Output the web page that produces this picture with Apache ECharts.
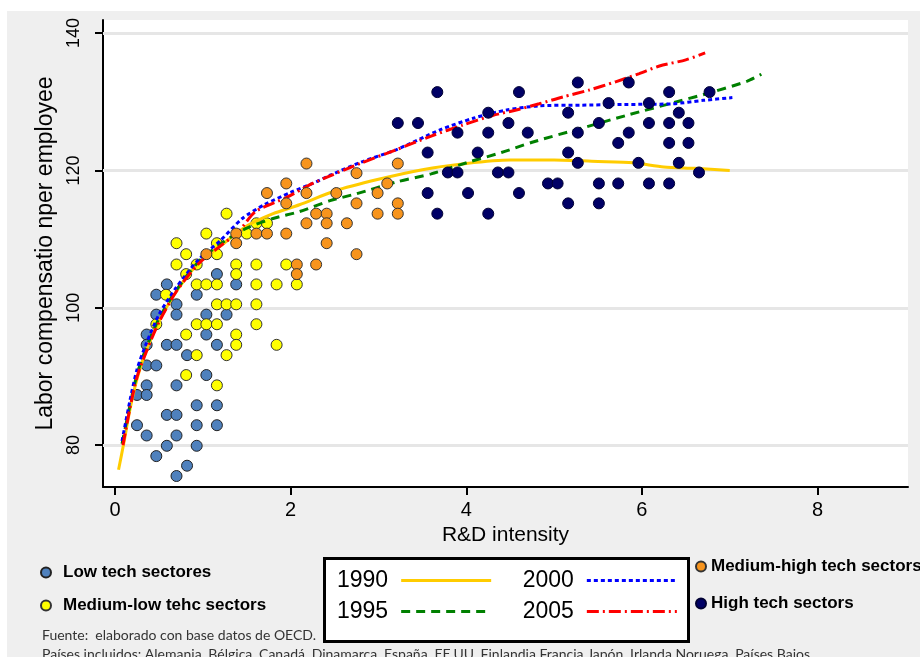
<!DOCTYPE html>
<html>
<head>
<meta charset="utf-8">
<script src="https://cdn.jsdelivr.net/npm/echarts@6/dist/echarts.min.js"></script>
<style>
  html, body { margin: 0; padding: 0; background: #fff; }
  #main { width: 920px; height: 657px; }
</style>
</head>
<body>
<div id="main"></div>
<script>
// ticks
var xTicks = [0, 2, 4, 6, 8];
var yTicks = [80, 100, 120, 140];

// sectors (R&D intensity, labor compensation per employee)
var lowTech = [
  [0.59,103.4],[1.38,103.4],[1.16,104.9],[0.47,101.9],[0.93,101.9],[0.70,100.5],
  [0.47,99.0],[0.70,99.0],[1.04,99.0],[1.27,99.0],[0.36,96.1],[1.04,96.1],
  [0.36,94.6],[0.59,94.6],[0.70,94.6],[1.16,94.6],[0.82,93.1],[0.36,91.6],
  [0.47,91.6],[1.04,90.2],[0.36,88.7],[0.70,88.7],[0.25,87.3],[0.36,87.3],
  [0.93,85.8],[1.16,85.8],[0.59,84.4],[0.70,84.4],[0.25,82.9],[0.93,82.9],
  [1.16,82.9],[0.36,81.4],[0.70,81.4],[0.59,79.9],[0.93,79.9],[0.47,78.4],
  [0.82,77.0],[0.70,75.5]
];
var medLowTech = [
  [0.70,109.4],[0.81,107.8],[1.04,110.8],[1.16,109.4],[1.16,107.8],[1.27,113.7],
  [1.50,110.8],[1.61,112.3],[1.73,112.3],[0.70,106.3],[0.93,106.3],[1.38,106.3],
  [1.61,106.3],[1.95,106.3],[0.81,104.9],[1.38,104.9],[0.93,103.4],[1.04,103.4],
  [1.16,103.4],[1.61,103.4],[1.84,103.4],[2.07,103.4],[0.58,101.9],[1.16,100.5],
  [1.27,100.5],[1.38,100.5],[1.61,100.5],[0.47,97.6],[0.93,97.6],[1.04,97.6],
  [1.16,97.6],[1.61,97.6],[0.81,96.1],[1.38,96.1],[1.38,94.6],[1.84,94.6],
  [0.93,93.1],[1.27,93.1],[0.81,90.2],[1.16,88.7]
];
var medHighTech = [
  [1.04,107.8],[1.38,110.8],[1.38,109.4],[1.61,110.8],[1.73,110.8],[1.95,110.8],
  [1.73,116.7],[1.95,118.1],[1.95,115.2],[2.07,106.3],[2.07,104.9],[2.18,121.0],
  [2.18,116.7],[2.18,112.3],[2.29,113.7],[2.29,106.3],[2.41,113.7],[2.41,112.3],
  [2.41,109.4],[2.52,116.7],[2.64,112.3],[2.75,119.6],[2.75,115.2],[2.75,107.8],
  [2.99,116.7],[2.99,113.7],[3.10,118.1],[3.22,121.0],[3.22,115.2],[3.22,113.7]
];
var highTech = [
  [3.22,126.9],[3.45,126.9],[3.67,131.4],[3.56,122.6],[3.56,116.7],[3.67,113.7],
  [3.79,119.7],[3.90,119.7],[3.90,125.5],[4.02,116.7],[4.13,122.6],[4.25,128.4],
  [4.25,125.5],[4.25,113.7],[4.36,119.7],[4.48,119.7],[4.48,126.9],[4.60,131.4],
  [4.60,116.7],[4.70,125.5],[4.93,118.1],[5.04,118.1],[5.16,128.4],[5.16,122.6],
  [5.16,115.2],[5.27,132.8],[5.27,125.5],[5.27,121.1],[5.51,126.9],[5.51,118.1],
  [5.51,115.2],[5.62,129.8],[5.73,124.0],[5.73,118.1],[5.85,132.8],[5.85,125.5],
  [5.96,121.1],[6.08,129.8],[6.08,126.9],[6.08,118.1],[6.31,131.4],[6.31,126.9],
  [6.31,124.0],[6.31,118.1],[6.42,128.4],[6.42,121.1],[6.53,126.9],[6.53,124.0],
  [6.65,119.7],[6.77,131.4]
];

// fitted curves by year
var fit1990 = [
  [0.04,76.4],[0.1,80.3],[0.17,85.2],[0.25,89.6],[0.35,93.6],[0.5,98.0],[0.7,102.4],
  [0.95,106.5],[1.2,109.0],[1.5,111.9],[1.8,113.7],[2.1,115.0],[2.5,117.0],[3.0,118.7],
  [3.5,120.1],[4.0,121.0],[4.5,121.5],[5.0,121.5],[5.5,121.3],[5.9,121.1],[6.25,120.5],
  [6.6,120.3],[7.0,120.0]
];
var fit1995 = [
  [0.08,80.2],[0.17,85.8],[0.25,90.3],[0.35,94.0],[0.5,98.4],[0.7,102.6],[0.95,106.7],
  [1.2,109.3],[1.5,111.6],[1.8,113.0],[2.1,114.0],[2.45,115.6],[2.75,116.6],[3.2,118.3],
  [3.6,119.5],[4.05,121.3],[4.4,122.6],[4.75,124.1],[5.3,126.1],[5.85,128.1],[6.4,130.0],
  [6.8,131.4],[7.2,133.0],[7.36,134.0]
];
var fit2000 = [
  [0.08,80.6],[0.17,86.5],[0.25,91.0],[0.35,94.6],[0.5,99.0],[0.7,103.0],[0.95,107.0],
  [1.2,109.8],[1.45,113.0],[1.7,115.0],[2.0,116.8],[2.25,118.1],[2.45,119.3],[2.8,121.2],
  [3.2,123.0],[3.7,125.9],[4.08,127.6],[4.46,128.8],[4.83,129.4],[5.3,129.5],[5.8,129.6],
  [6.35,129.7],[6.7,130.2],[7.03,130.6]
];
var fit2005 = [
  [0.09,80.0],[0.17,85.4],[0.25,89.9],[0.35,93.4],[0.5,97.9],[0.7,102.4],[0.95,106.4],
  [1.2,109.0],[1.4,111.0],[1.6,114.0],[1.96,116.1],[2.25,118.1],[2.79,121.0],[3.2,123.0],
  [3.6,125.0],[3.96,126.6],[4.3,128.0],[4.57,128.8],[4.83,129.7],[5.1,130.7],[5.4,131.7],
  [5.7,132.9],[5.97,134.1],[6.2,135.2],[6.5,136.1],[6.72,137.1]
];

var myChart = echarts.init(document.getElementById('main'));
var option;

var baseFont = 'Liberation Sans, Arial, sans-serif';
var noteFont = 'Lato, Liberation Sans, sans-serif';

function scatterSeries(name, data, color, border, z) {
  return {
    name: name,
    type: 'scatter',
    data: data,
    symbol: 'circle',
    symbolSize: 11,
    z: z,
    itemStyle: { color: color, borderColor: border, borderWidth: 1, opacity: 1 },
    emphasis: { disabled: true }
  };
}

function lineSeries(name, data, color, dash) {
  return {
    name: name,
    type: 'line',
    data: data,
    smooth: 0.25,
    symbol: 'none',
    showSymbol: false,
    z: 3,
    lineStyle: { color: color, width: 3, type: dash },
    itemStyle: { color: color },
    emphasis: { disabled: true }
  };
}

option = {
  backgroundColor: '#ffffff',
  animation: false,
  grid: {
    left: 103, right: 12, top: 20, bottom: 170,
    show: true, backgroundColor: '#ffffff', borderWidth: 0
  },
  graphic: [
    { type: 'rect', z: -10, left: 7, top: 11, shape: { width: 913, height: 646 }, style: { fill: '#efefef' } },
    { type: 'rect', z: 10, left: 323, top: 557, shape: { width: 364, height: 83 }, style: { fill: '#ffffff', stroke: '#000000', lineWidth: 3 } },
    { type: 'text', z: 10, left: 42, top: 628, style: { text: 'Fuente:  elaborado con base datos de OECD.', font: '14px ' + noteFont, fill: '#333333' } },
    { type: 'text', z: 10, left: 42, top: 647, style: { text: 'Países incluidos: Alemania, Bélgica, Canadá, Dinamarca, España, EE.UU, Finlandia Francia Japón, Irlanda Noruega, Países Bajos', font: '14px ' + noteFont, fill: '#333333' } }
  ],
  legend: [
    {
      data: ['Low tech sectores', 'Medium-low tehc sectors'],
      orient: 'vertical', left: 40, top: 564, itemGap: 16, padding: 0,
      itemWidth: 10, itemHeight: 10, icon: 'circle',
      textStyle: { fontFamily: baseFont, fontWeight: 'bold', fontSize: 17, color: '#000', padding: [0, 0, 0, 7] },
      selectedMode: false
    },
    {
      data: ['Medium-high tech sectors', 'High tech sectors'],
      orient: 'vertical', left: 695, top: 558, itemGap: 20, padding: 0,
      itemWidth: 10, itemHeight: 10, icon: 'circle',
      textStyle: { fontFamily: baseFont, fontWeight: 'bold', fontSize: 17, color: '#000' },
      selectedMode: false
    },
    {
      data: ['1990', '2000'],
      orient: 'horizontal', left: 337, top: 569, itemGap: 30, padding: 0, z: 12,
      itemWidth: 90, itemHeight: 14, align: 'right',
      lineStyle: { width: 3 },
      itemStyle: { opacity: 0 },
      textStyle: { fontFamily: baseFont, fontSize: 23, color: '#000', padding: [0, 8, 0, 0] },
      selectedMode: false
    },
    {
      data: ['1995', '2005'],
      orient: 'horizontal', left: 337, top: 600, itemGap: 30, padding: 0, z: 12,
      itemWidth: 90, itemHeight: 14, align: 'right',
      lineStyle: { width: 3 },
      itemStyle: { opacity: 0 },
      textStyle: { fontFamily: baseFont, fontSize: 23, color: '#000', padding: [0, 8, 0, 0] },
      selectedMode: false
    }
  ],
  xAxis: {
    type: 'value',
    min: -0.137, max: 9.03,
    name: 'R&D intensity',
    nameLocation: 'middle',
    nameGap: 34,
    nameTextStyle: { fontFamily: baseFont, fontSize: 21, color: '#000' },
    axisLine: { show: true, onZero: false, lineStyle: { color: '#000', width: 2 } },
    axisTick: { show: true, inside: false, length: 8, customValues: xTicks, lineStyle: { color: '#000', width: 2 } },
    axisLabel: { customValues: xTicks, margin: 13, fontFamily: baseFont, fontSize: 20, color: '#000' },
    splitLine: { show: false }
  },
  yAxis: {
    type: 'value',
    min: 73.9, max: 141.9,
    name: 'Labor compensatio nper employee',
    nameLocation: 'middle',
    nameRotate: 90,
    nameGap: 45,
    nameTextStyle: { fontFamily: baseFont, fontSize: 23, color: '#000' },
    axisLine: { show: true, onZero: false, lineStyle: { color: '#000', width: 2 } },
    axisTick: { show: true, inside: false, length: 8, customValues: yTicks, lineStyle: { color: '#000', width: 2 } },
    axisLabel: { customValues: yTicks, rotate: 90, margin: 20, fontFamily: baseFont, fontSize: 18, color: '#000' },
    splitLine: { show: false }
  },
  series: [
    {
      name: 'grid', type: 'scatter', data: [], z: 1, silent: true,
      markLine: {
        z: 1, silent: true, symbol: 'none', label: { show: false },
        lineStyle: { color: '#e6e6e6', width: 3, type: 'solid' },
        emphasis: { disabled: true },
        data: yTicks.map(function (v) { return { yAxis: v }; })
      }
    },
    scatterSeries('Low tech sectores', lowTech, '#4f81bd', '#222222', 2),
    scatterSeries('Medium-low tehc sectors', medLowTech, '#ffff00', '#333333', 2),
    lineSeries('1990', fit1990, '#ffcc00', 'solid'),
    lineSeries('1995', fit1995, '#008000', [9, 6]),
    lineSeries('2000', fit2000, '#0000ff', [4, 3]),
    lineSeries('2005', fit2005, '#ff0000', [12, 4, 2, 4]),
    scatterSeries('Medium-high tech sectors', medHighTech, '#f7941d', '#333333', 4),
    scatterSeries('High tech sectors', highTech, '#000066', '#000033', 4)
  ]
};

myChart.setOption(option);
</script>
</body>
</html>
